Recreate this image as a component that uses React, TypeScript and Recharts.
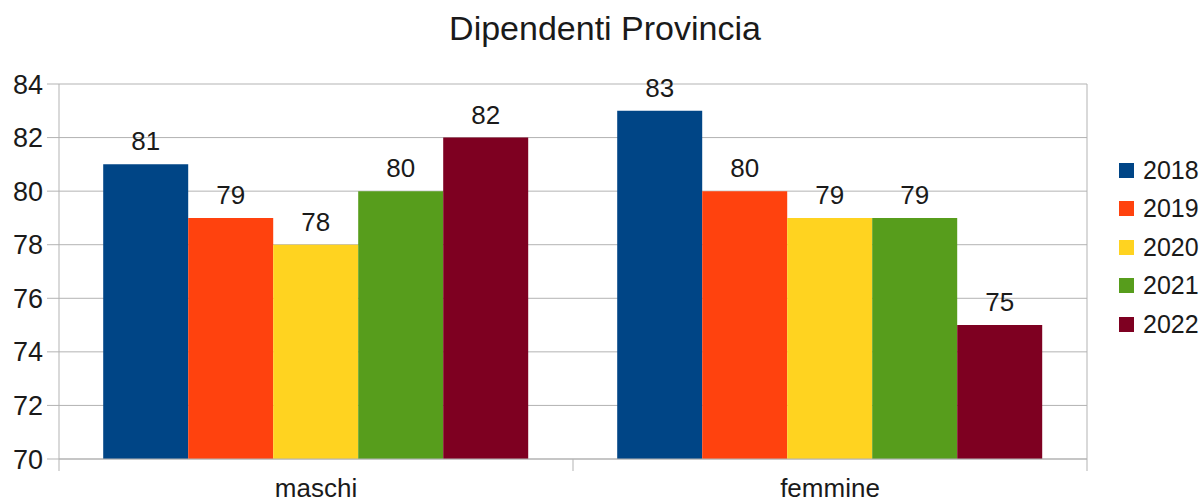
import React from 'react';
import { BarChart, Bar, XAxis, YAxis, CartesianGrid, Legend, LabelList } from 'recharts';

const categories = ['maschi', 'femmine'];
const years = ['2018', '2019', '2020', '2021', '2022'];
const values2018 = [81, 83];
const values2019 = [79, 80];
const values2020 = [78, 79];
const values2021 = [80, 79];
const values2022 = [82, 75];
const yTicks = [70, 72, 74, 76, 78, 80, 82, 84];

const colors = ['#004586', '#ff420e', '#ffd320', '#579d1c', '#7e0021'];
const seriesValues = [values2018, values2019, values2020, values2021, values2022];

const data = categories.map((cat, i) => {
  const row: Record<string, string | number> = { name: cat };
  years.forEach((y, j) => {
    row[y] = seriesValues[j][i];
  });
  return row;
});

const W = 1204;
const H = 502;
const PLOT_LEFT = 59;
const PLOT_RIGHT = 1087;
const PLOT_BOTTOM = 459;
const HALF_BAND = (PLOT_RIGHT - PLOT_LEFT) / categories.length / 2;
const FONT = '"Liberation Sans", Arial, sans-serif';
const GRID = '#b3b3b3';
const TEXT = '#1a1a1a';

function CategoryTick(props: any) {
  const { x, y, payload, index } = props;
  return (
    <g>
      <line x1={x - HALF_BAND} x2={x - HALF_BAND} y1={y} y2={y + 12} stroke={GRID} />
      {index === categories.length - 1 && (
        <line x1={x + HALF_BAND} x2={x + HALF_BAND} y1={y} y2={y + 12} stroke={GRID} />
      )}
      <text x={x} y={y + 38} textAnchor="middle" fontSize={26} fill={TEXT} fontFamily={FONT}>
        {payload.value}
      </text>
    </g>
  );
}

function LegendBox() {
  return (
    <div style={{ fontFamily: FONT, fontSize: 25, color: TEXT }}>
      {years.map((y, i) => (
        <div key={y} style={{ display: 'flex', alignItems: 'center', height: 38.5 }}>
          <span style={{ width: 15, height: 15, background: colors[i], marginRight: 9, display: 'inline-block' }} />
          <span>{y}</span>
        </div>
      ))}
    </div>
  );
}

export default function App() {
  return (
    <div style={{ position: 'absolute', left: 0, top: 0, width: W, height: H, background: '#fff' }}>
      <div
        style={{
          position: 'absolute', left: 0, top: 8, width: 1210, textAlign: 'center',
          fontFamily: FONT, fontSize: 34, color: TEXT, lineHeight: '40px',
        }}
      >
        Dipendenti Provincia
      </div>
      <BarChart
        width={W}
        height={H}
        data={data}
        margin={{ top: 84, right: W - PLOT_RIGHT, bottom: 0, left: 0 }}
        barCategoryGap="8.6%"
        barGap={0}
      >
        <CartesianGrid
          stroke={GRID}
          verticalCoordinatesGenerator={({ offset }: any) => [offset.left + offset.width]}
        />
        <XAxis
          dataKey="name"
          height={H - PLOT_BOTTOM}
          tickLine={false}
          tickSize={0}
          tickMargin={0}
          axisLine={{ stroke: GRID }}
          tick={<CategoryTick />}
          interval={0}
        />
        <YAxis
          width={PLOT_LEFT}
          domain={[70, 84]}
          ticks={yTicks}
          interval={0}
          tickSize={12}
          tickMargin={4}
          axisLine={{ stroke: GRID }}
          tickLine={{ stroke: GRID }}
          tick={{ fontSize: 27, fill: TEXT, fontFamily: FONT }}
        />
        <Legend
          layout="horizontal"
          verticalAlign="middle"
          align="center"
          wrapperStyle={{ left: 1119, top: 151, right: 'auto', bottom: 'auto', width: 85 }}
          content={() => <LegendBox />}
        />
        {years.map((y, i) => (
          <Bar key={y} dataKey={y} fill={colors[i]} isAnimationActive={false}>
            <LabelList
              dataKey={y}
              position="top"
              offset={14}
              fontSize={26}
              fill={TEXT}
              fontFamily={FONT}
            />
          </Bar>
        ))}
      </BarChart>
    </div>
  );
}
